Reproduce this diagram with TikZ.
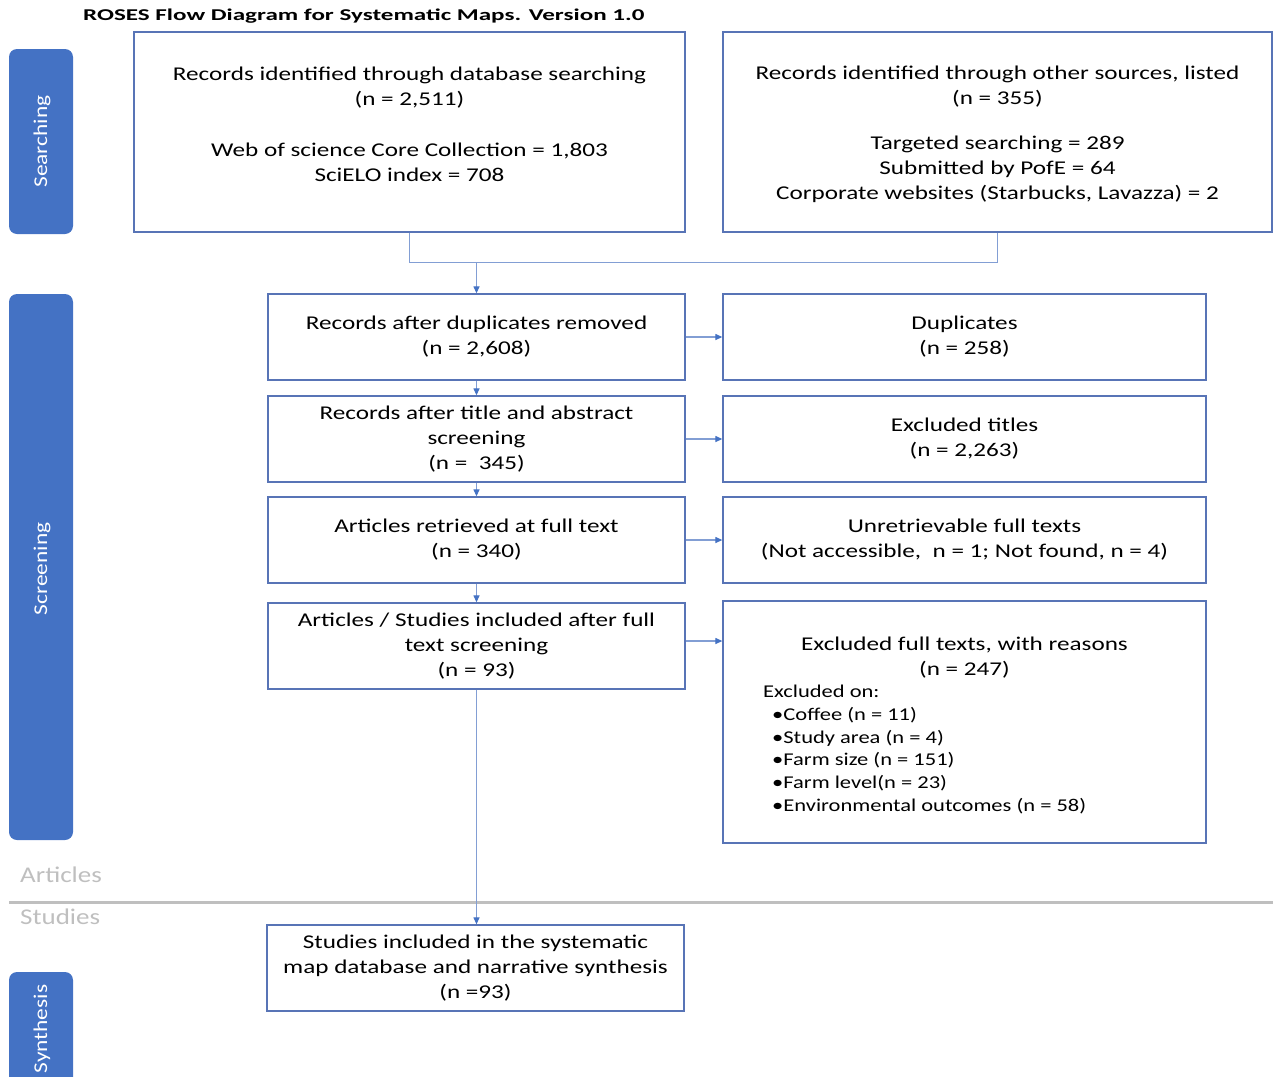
\documentclass[tikz,border=0pt]{standalone}
\usepackage{fontspec}
\setmainfont{Carlito}[FakeStretch=1.29]
\newfontfamily\tabf{Carlito}[FakeStretch=1.2]
\newfontfamily\titlef{Carlito}[FakeStretch=1.52]
\newfontfamily\listf{Carlito}[FakeStretch=1.25]
\usetikzlibrary{arrows.meta}
\definecolor{tabblue}{RGB}{68,114,196}
\definecolor{boxline}{RGB}{88,116,182}
\definecolor{conline}{RGB}{130,158,212}
\definecolor{arrblue}{RGB}{68,114,196}
\definecolor{lgray}{RGB}{191,191,191}
\tikzset{
  box/.style={draw=boxline, line width=1.3pt, align=center, inner sep=0pt,
    font=\fontsize{19.5}{25}\selectfont},
  lbox/.style={box, minimum width=417pt, minimum height=86pt},
  rbox/.style={box, minimum width=483pt, minimum height=86pt},
  txt/.style={align=center, inner sep=0pt, font=\fontsize{19.5}{25}\selectfont},
  tab/.style={fill=tabblue, rounded corners=8pt, minimum width=64pt, inner sep=0pt},
  tabtxt/.style={text=white, rotate=90, inner sep=0pt, font=\tabf\fontsize{19.5}{25}\selectfont},
  graytxt/.style={inner sep=0pt, anchor=west, text=lgray, font=\tabf\fontsize{22.5}{27}\selectfont},
  con/.style={draw=conline, line width=1.2pt},
  arr/.style={con, -{Triangle[length=7pt,width=6pt,fill=arrblue,color=arrblue]}},
}
\begin{document}
\begin{tikzpicture}[x=1pt,y=-1pt]
\useasboundingbox (0,0) rectangle (1273,1076);
% title
\node[inner sep=0pt, anchor=west, font=\titlef\fontsize{16.5}{20}\selectfont\bfseries] (title) at (83,16) {ROSES Flow Diagram for Systematic Maps. Version 1.0};
% tabs
\node[tab, minimum height=185pt] (tsearch) at (41,141.5) {};
\node[tabtxt] (tsearcht) at (42,141.5) {Searching};
\node[tab, minimum height=546pt] (tscreen) at (41,567) {};
\node[tabtxt] (tscreent) at (42,569) {Screening};
\node[tab, minimum height=130pt] (tsynth) at (41,1037) {};
\node[tabtxt] (tsyntht) at (42,1029) {Synthesis};
% top boxes
\node[box, minimum width=551pt, minimum height=200pt] (db) at (409.5,132) {};
\node[txt] (dbt) at (409.5,124) {Records identified through database searching\\(n = 2,511)\\[26pt]Web of science Core Collection = 1,803\\SciELO index = 708};
\node[box, minimum width=549pt, minimum height=200pt] (other) at (997.5,132) {};
\node[txt] (othert) at (997.5,134) {Records identified through other sources, listed\\(n = 355)\\[20pt]Targeted searching = 289\\Submitted by PofE = 64\\Corporate websites (Starbucks, Lavazza) = 2};
% left column
\node[lbox] (dedup) at (476.5,337) {Records after duplicates removed\\(n = 2,608)};
\node[lbox] (ta) at (476.5,439) {Records after title and abstract\\screening\\(n = \ 345)};
\node[lbox] (ret) at (476.5,540) {Articles retrieved at full text\\(n = 340)};
\node[lbox] (ft) at (476.5,646) {Articles / Studies included after full\\text screening\\(n = 93)};
\node[lbox] (syn) at (475.5,968) {Studies included in the systematic\\map database and narrative synthesis\\(n =93)};
% right column
\node[rbox] (dup) at (964.5,337) {Duplicates\\(n = 258)};
\node[rbox] (extit) at (964.5,439) {Excluded titles\\(n = 2,263)};
\node[rbox] (unret) at (964.5,540) {Unretrievable full texts\\(Not accessible, \ n = 1; Not found, n = 4)};
\node[box, minimum width=483pt, minimum height=242pt] (exft) at (964.5,722) {};
\node[txt] (exftt) at (964.5,658) {Excluded full texts, with reasons\\(n = 247)};
\node[inner sep=0pt, anchor=north west, align=left, font=\listf\fontsize{18}{22.7}\selectfont] (exlist) at (763,685) {Excluded on:\\
\hspace*{9pt}•Coffee (n = 11)\\
\hspace*{9pt}•Study area (n = 4)\\
\hspace*{9pt}•Farm size (n = 151)\\
\hspace*{9pt}•Farm level(n = 23)\\
\hspace*{9pt}•Environmental outcomes (n = 58)};
% articles / studies divider
\coordinate (divl) at (9,902);
\coordinate (divr) at (1273,902);
\draw[lgray, line width=3pt] (divl) -- (divr);
\node[graytxt] (articles) at (20,875) {Articles};
\node[graytxt] (studies) at (20,917) {Studies};
% connectors
\coordinate (j) at (476.5,262);
\draw[con] (db.south) -- ++(0,30) -| (other.south);
\draw[arr] (j) -- (dedup.north);
\draw[arr] (dedup.south) -- (ta.north);
\draw[arr] (ta.south) -- (ret.north);
\draw[arr] (ret.south) -- (ft.north);
\draw[arr] (ft.south) -- (ft.south |- syn.north);
\draw[arr] (dedup.east) -- (dup.west);
\draw[arr] (ta.east) -- (extit.west);
\draw[arr] (ret.east) -- (unret.west);
\draw[arr] (ft.east |- 0,641) -- (exft.west |- 0,641);
\end{tikzpicture}
\end{document}
